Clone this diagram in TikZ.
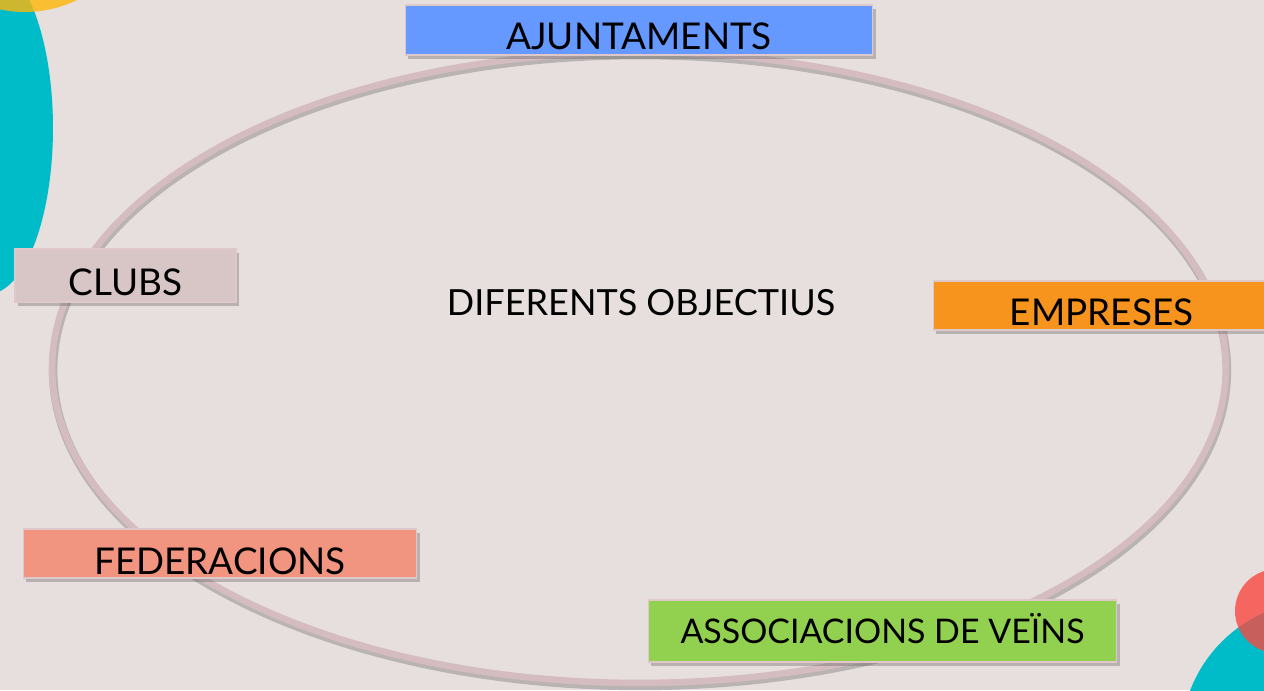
\documentclass[tikz,border=0pt]{standalone}
\usepackage{fontspec}
\setmainfont{Lato}
\usetikzlibrary{shadows}

\definecolor{slidebg}{RGB}{230,223,221}
\definecolor{ringline}{RGB}{212,188,193}
\definecolor{groupline}{RGB}{222,200,202}
\definecolor{blueajunt}{RGB}{102,153,255}
\definecolor{pinkclubs}{RGB}{216,197,198}
\definecolor{orangeemp}{RGB}{247,148,30}
\definecolor{salmonfed}{RGB}{241,148,128}
\definecolor{greenveins}{RGB}{146,208,80}
\definecolor{tealdeco}{RGB}{0,188,200}
\definecolor{yellowdeco}{RGB}{255,182,8}
\definecolor{reddeco}{RGB}{249,72,66}

\begin{document}
\begin{tikzpicture}
    [
        x=0.02cm, y=-0.02cm,
        group/.style = {
            rectangle, draw=groupline, line width=0.6pt, inner sep=0pt,
            font=\fontsize{21}{25}\selectfont,
            drop shadow={shadow xshift=1.5pt, shadow yshift=-2pt,
                         opacity=0.3, fill=black!70}
            },
        ring/.style = {
            draw=ringline, line width=0.13cm
            },
    ]
    \fill[slidebg] (0,0) rectangle (1264,690);
    \useasboundingbox (0,0) rectangle (1264,690);

    % corner decorations
    \fill[tealdeco] (-12,128) ellipse [x radius=1.3cm, y radius=3.32cm];
    \fill[yellowdeco, fill opacity=0.8] (25,-107) circle [radius=2.38cm];
    \fill[tealdeco] (1320,740) circle [radius=2.78cm];
    \fill[reddeco, fill opacity=0.8] (1277,611) circle [radius=0.84cm];

    % ring
    \draw[black!60, line width=0.17cm, opacity=0.35]
        (640,370.5) ellipse [x radius=11.74cm, y radius=6.31cm];
    \draw[ring] (639,367.5) ellipse [x radius=11.74cm, y radius=6.31cm];

    \node[font=\fontsize{20.5}{25}\selectfont] (objectius) at (641,302.5)
        {DIFERENTS OBJECTIUS};

    \node[group, fill=blueajunt, minimum width=9.36cm, minimum height=1cm,
          text height=0.9cm, text depth=0.1cm] (ajuntaments) at (639,30)
        {AJUNTAMENTS};
    \node[group, fill=pinkclubs, minimum width=4.42cm, minimum height=1.06cm,
          text height=0.92cm, text depth=0.14cm] (clubs) at (125.5,275.5)
        {CLUBS};
    \node[group, fill=orangeemp, minimum width=6.74cm, minimum height=0.98cm,
          text height=0.88cm, text depth=0.1cm] (empreses) at (1101.5,305.5)
        {EMPRESES};
    \node[group, fill=salmonfed, minimum width=7.88cm, minimum height=0.98cm,
          text height=0.9cm, text depth=0.08cm] (federacions) at (220,553.5)
        {FEDERACIONS};
    \node[group, fill=greenveins, minimum width=9.38cm, minimum height=1.24cm,
          text height=0.86cm, text depth=0.38cm,
          font=\fontsize{19.3}{23}\selectfont] (veins) at (882.5,631)
        {ASSOCIACIONS DE VEÏNS};
\end{tikzpicture}
\end{document}
